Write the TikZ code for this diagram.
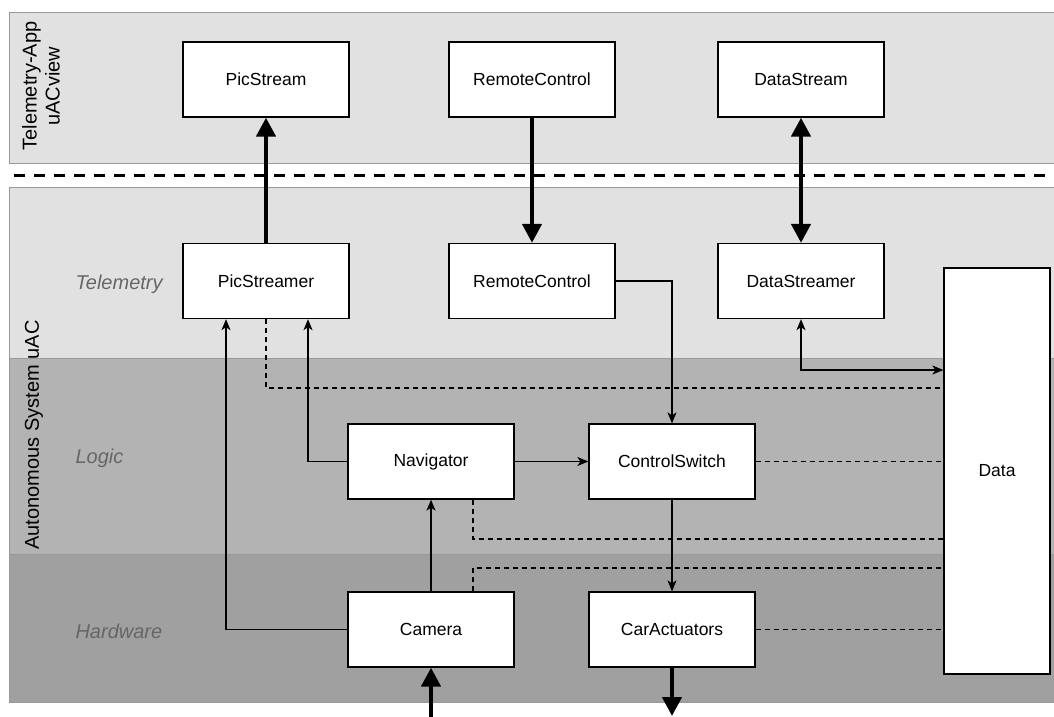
\documentclass[tikz,border=0pt]{standalone}
\usepackage{fontspec}
\setmainfont{Liberation Sans}
\usetikzlibrary{arrows.meta,calc}
\definecolor{laneA}{HTML}{E1E1E1}
\definecolor{laneB}{HTML}{B3B3B3}
\definecolor{laneC}{HTML}{A0A0A0}
\definecolor{laneline}{HTML}{999999}
\definecolor{lanetext}{HTML}{666666}
\begin{document}
\begin{tikzpicture}[x=1pt,y=-1pt,
  comp/.style={draw=black,fill=white,line width=1.3pt,minimum width=166pt,minimum height=75pt,
    inner sep=0pt,font=\fontsize{17.5}{21}\selectfont},
  lane/.style={draw=laneline,line width=1pt},
  lanelabel/.style={anchor=west,text=lanetext,font=\fontsize{20}{24}\selectfont\itshape},
  thinarr/.style={line width=1.3pt,-{Stealth[length=11pt,width=9pt,inset=3pt]}},
  thinboth/.style={line width=1.3pt,{Stealth[length=11pt,width=9pt,inset=3pt]}-{Stealth[length=11pt,width=9pt,inset=3pt]}},
  thickarr/.style={line width=4.5pt,-{Triangle[length=19pt,width=19pt]}},
  thickboth/.style={line width=4.5pt,{Triangle[length=19pt,width=19pt]}-{Triangle[length=19pt,width=19pt]}},
  dashconn/.style={line width=1.2pt,dash pattern=on 5pt off 4pt}]
\useasboundingbox (0,0) rectangle (1054,716);
\clip (0,0) rectangle (1054,716);

% lanes
\fill[white] (0,0) rectangle (1054,716);
\draw[lane,fill=laneA] (9,12) rectangle (1070,163);
\draw[lane,fill=laneA] (9,187) rectangle (1070,358);
\draw[lane,fill=laneB] (9,358) rectangle (1070,554);
\draw[lane,fill=laneC] (9,554) rectangle (1070,702);

% separator between app and system
\draw[line width=3pt,dash pattern=on 11pt off 9pt,dash phase=16pt] (10,175) -- (1054,175);

% lane titles
\node[rotate=90,align=center,font=\fontsize{20}{23}\selectfont] (apptitle) at (41,86) {Telemetry-App\\uACview};
\node[rotate=90,font=\fontsize{20}{24}\selectfont] (systitle) at (34,435) {Autonomous System uAC};
\node[lanelabel] (ltele) at (72,284) {Telemetry};
\node[lanelabel] (llogic) at (72,458) {Logic};
\node[lanelabel] (lhw) at (72,631) {Hardware};

% components
\node[comp] (pstream) at (266,79.5) {PicStream};
\node[comp] (rc1) at (532,79.5) {RemoteControl};
\node[comp] (dstream) at (801,79.5) {DataStream};
\node[comp] (pser) at (266,281) {PicStreamer};
\node[comp] (rc2) at (532,281) {RemoteControl};
\node[comp] (dser) at (801,281) {DataStreamer};
\node[comp] (nav) at (431,461.5) {Navigator};
\node[comp] (cs) at (672,461.5) {ControlSwitch};
\node[comp] (cam) at (431,629.5) {Camera};
\node[comp] (ca) at (672,629.5) {CarActuators};
\node[comp,minimum width=106pt,minimum height=406pt] (data) at (997,471) {Data};

\coordinate (camin) at (431,730);
\coordinate (caout) at (672,716);

% thick links across the separator
\draw[thickarr] (pser) -- (pstream);
\draw[thickarr] (rc1) -- (rc2);
\draw[thickboth] (dstream) -- (dser);
\draw[thickarr] (camin) -- (cam);
\draw[thickarr] (ca) -- (caout);

% control and data flow
\draw[thinarr] (rc2.east) -| (cs.north);
\draw[thinarr] (nav.west) -| ($(pser.south)+(42,0)$);
\draw[thinarr] (cam.west) -| ($(pser.south)+(-40,0)$);
\draw[thinarr] (cam) -- (nav);
\draw[thinarr] (nav) -- (cs);
\draw[thinarr] (cs) -- (ca);
\draw[thinboth] (dser.south) |- (data.west |- 0,370);

% data store access
\draw[dashconn] (pser.south) |- (data.west |- 0,388);
\draw[dashconn] (cs.east) -- (data.west |- cs.east);
\draw[dashconn] ($(nav.south)+(42,0)$) |- (data.west |- 0,539);
\draw[dashconn] ($(cam.north)+(42,0)$) |- (data.west |- 0,568);
\draw[dashconn] (ca.east) -- (data.west |- ca.east);
\end{tikzpicture}
\end{document}
